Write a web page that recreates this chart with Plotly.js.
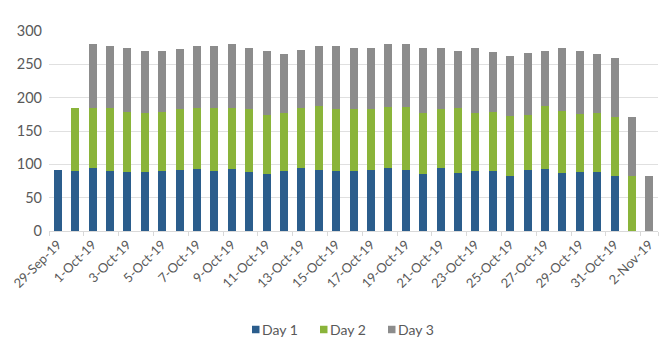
<!DOCTYPE html>
<html>
<head>
<meta charset="utf-8">
<script src="https://cdn.plot.ly/plotly-3.0.1.min.js"></script>
<style>html,body{margin:0;padding:0;background:#fff;}#chart{width:670px;height:361px;}</style>
</head>
<body>
<div id="chart"></div>
<script>
const dates = ["29-Sep-19","30-Sep-19","1-Oct-19","2-Oct-19","3-Oct-19","4-Oct-19","5-Oct-19","6-Oct-19","7-Oct-19","8-Oct-19","9-Oct-19","10-Oct-19","11-Oct-19","12-Oct-19","13-Oct-19","14-Oct-19","15-Oct-19","16-Oct-19","17-Oct-19","18-Oct-19","19-Oct-19","20-Oct-19","21-Oct-19","22-Oct-19","23-Oct-19","24-Oct-19","25-Oct-19","26-Oct-19","27-Oct-19","28-Oct-19","29-Oct-19","30-Oct-19","31-Oct-19","1-Nov-19","2-Nov-19"];
const day1 = [92,89.5,95,89.5,88,88,89.5,91,93.5,89.5,93.5,88,85.5,89.5,95,91.5,89.5,89.5,91.5,95,91.5,85.5,95,86.5,89.5,89.5,82,91.5,93.5,86.5,88,88,82,null,null];
const day2 = [null,94.5,90,95.5,90.5,89,89,91.5,91.5,95.5,91.5,94.5,88.5,87,90,96,93,93,91,91.5,95,91.5,87.5,97.5,87.5,89,90.5,82,94,94,88,89,89,82,null];
const day3 = [null,null,95,93,95.5,92.5,91,90.5,93,93,95,91.5,95.5,88.5,86,90.5,95.5,91.5,91.5,93.5,93.5,97,91.5,85.5,97,89.5,90.5,93,82,93.5,93.5,88,88.5,89,82];
const seriesNames = ["Day 1","Day 2","Day 3"];
const colors = ["#2B5D8C","#8AB43A","#8C8C8C"];
const tickLabels = dates.filter((d,i)=>i%2===0);

const traces = [day1,day2,day3].map((vals,i)=>({
  type:'bar', x:dates, y:vals, name:seriesNames[i],
  marker:{color:colors[i]}, hoverinfo:'none', showlegend:false
}));

// custom legend (Excel-style compact), positioned in paper coords
const M = {l:49, r:12, t:31, b:130};
const W = 670, H = 361;
const pw = W - M.l - M.r, ph = H - M.t - M.b;
const px = v => (v - M.l) / pw;
const py = v => (H - M.b - v) / ph;
const legendSquareX = [252, 320, 388];
const legendCy = 329.5, sq = 7.5;
const shapes = [], annotations = [];
seriesNames.forEach((name, i) => {
  const x0 = legendSquareX[i];
  shapes.push({type:'rect', xref:'paper', yref:'paper',
    x0:px(x0), x1:px(x0+sq), y0:py(legendCy-sq/2), y1:py(legendCy+sq/2),
    fillcolor:colors[i], line:{width:0}});
  annotations.push({xref:'paper', yref:'paper', x:px(x0+sq+0.5), y:py(legendCy),
    xanchor:'left', yanchor:'middle', showarrow:false, text:name,
    font:{size:14, color:'#595959', family:'Lato, "Open Sans", sans-serif'}});
});

const layout = {
  width:W, height:H,
  margin:M,
  barmode:'stack', bargap:0.54,
  paper_bgcolor:'#fff', plot_bgcolor:'#fff',
  font:{family:'Lato, "Open Sans", sans-serif', color:'#595959', size:13},
  xaxis:{type:'category', tickmode:'array', tickvals:tickLabels, ticktext:tickLabels,
    tickangle:-45, tickfont:{size:13,color:'#595959'},
    showline:true, linecolor:'#d9d9d9', linewidth:1,
    ticks:'outside', tickson:'boundaries', ticklen:4, tickcolor:'#d9d9d9',
    showgrid:false, range:[-0.5,34.5], fixedrange:true},
  yaxis:{range:[0,300], dtick:50, tick0:0, showgrid:true, gridcolor:'#e0e0e0', gridwidth:1,
    zeroline:false, showline:false, tickfont:{size:14.5,color:'#595959'}, ticks:'', ticklabelstandoff:6},
  shapes:shapes,
  annotations:annotations,
  showlegend:false
};
Plotly.newPlot('chart', traces, layout, {staticPlot:true, displayModeBar:false});
</script>
</body>
</html>
